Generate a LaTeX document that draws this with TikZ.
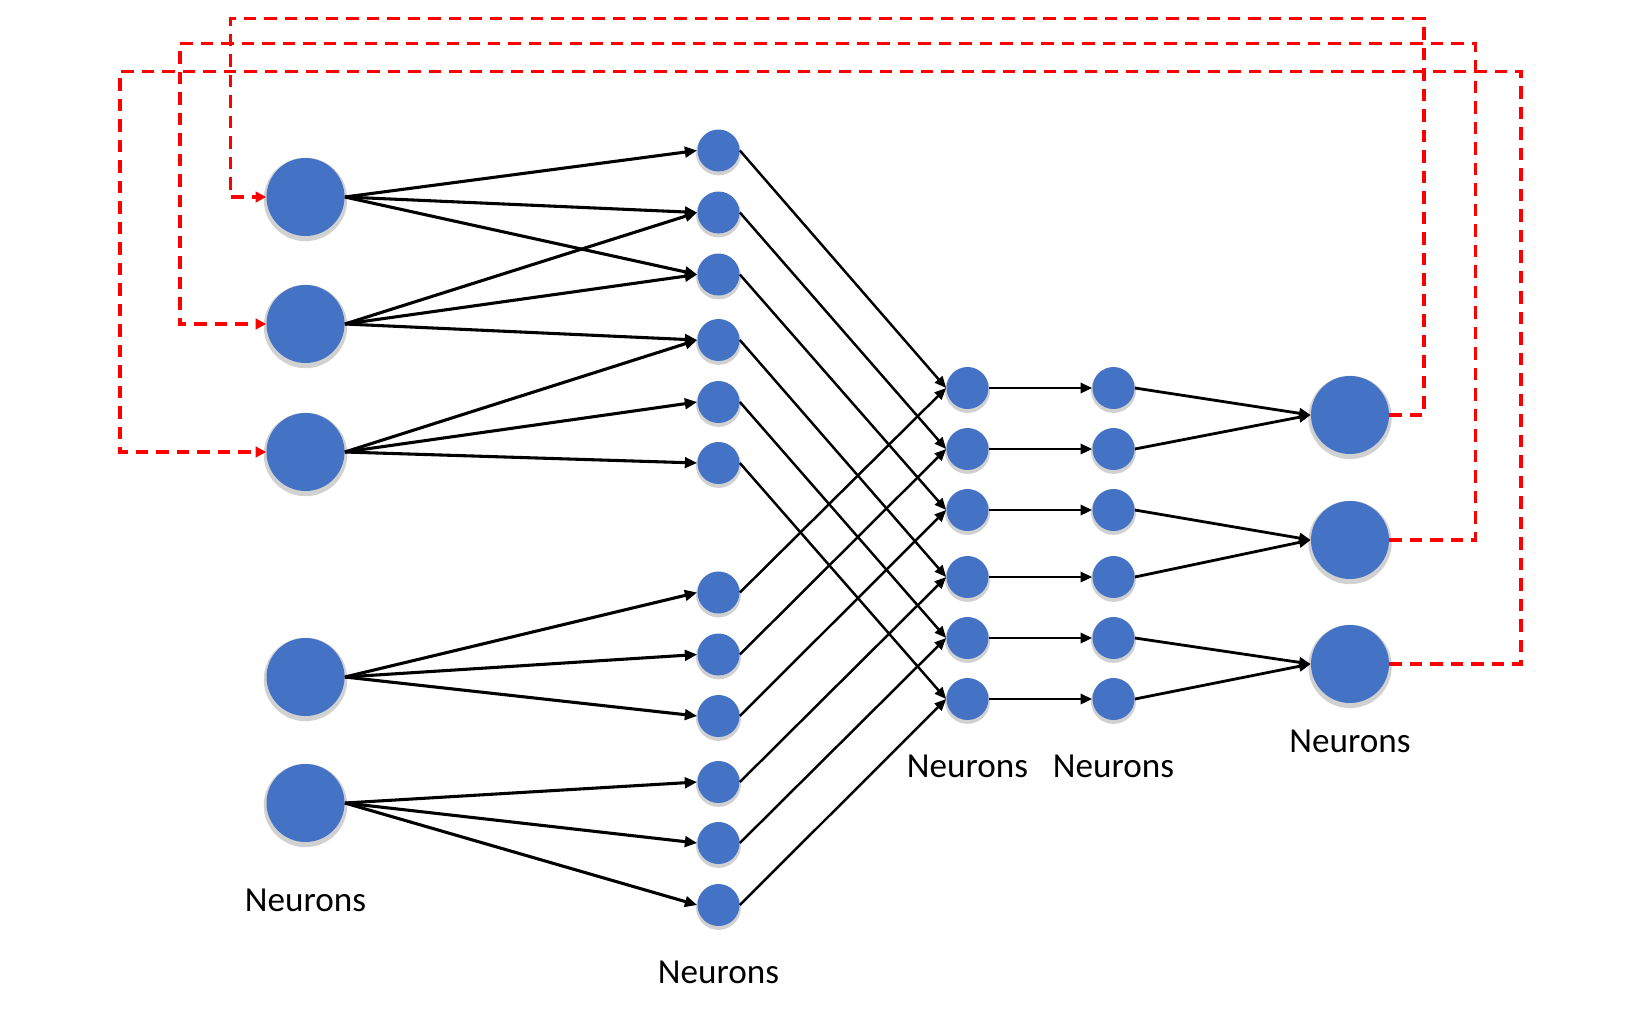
\documentclass[tikz,border=0pt]{standalone}
\usepackage{fontspec}
\setmainfont{Carlito}
\usepackage{tikz}
\usetikzlibrary{bayesnet}
\usetikzlibrary{positioning,arrows.meta,shadows}

\definecolor{nblue}{RGB}{68,114,196}

\tikzset{
  neuron/.style={latent, draw=none, fill=nblue, minimum size=0.84cm,
    drop shadow={shadow scale=1.07, shadow xshift=0pt, shadow yshift=-1.3pt, fill=black!40, opacity=0.45}},
  bigneuron/.style={neuron, minimum size=1.56cm},
  lbl/.style={font=\fontsize{20}{24}\selectfont},
  fanarrow/.style={>={Triangle[length=7pt,width=6pt]}, line width=1.75pt},
  linkarrow/.style={>={Triangle[length=6.6pt,width=5.8pt]}, line width=1.6pt},
  crossarrow/.style={>={Triangle[length=6.6pt,width=5.6pt]}, line width=1.4pt},
  feedback/.style={draw=red, line width=1.95pt, dash pattern=on 0.25cm off 0.16cm,
    -{Triangle[length=6pt,width=6pt]}}
}

\begin{document}
\begin{tikzpicture}[on grid]

  \useasboundingbox (0,0) rectangle (33,-20.26);

  % Define nodes
  \node[bigneuron] (i1) at (6.11,-3.94) {};
  \node[bigneuron, below=2.54cm of i1] (i2) {};
  \node[bigneuron, below=2.56cm of i2] (i3) {};
  \node[bigneuron, below=4.50cm of i3] (i4) {};
  \node[bigneuron, below=2.52cm of i4] (i5) {};

  \node[neuron, above right=0.93cm and 8.26cm of i1] (h1) {};
  \node[neuron, below=1.24cm of h1]  (h2)  {};
  \node[neuron, below=1.24cm of h2]  (h3)  {};
  \node[neuron, below=1.31cm of h3]  (h4)  {};
  \node[neuron, below=1.24cm of h4]  (h5)  {};
  \node[neuron, below=1.22cm of h5]  (h6)  {};
  \node[neuron, below=2.59cm of h6]  (h7)  {};
  \node[neuron, below=1.24cm of h7]  (h8)  {};
  \node[neuron, below=1.23cm of h8]  (h9)  {};
  \node[neuron, below=1.32cm of h9]  (h10) {};
  \node[neuron, below=1.22cm of h10] (h11) {};
  \node[neuron, below=1.24cm of h11] (h12) {};

  \node[neuron, below right=0.96cm and 4.98cm of h4] (m1) {};
  \node[neuron, below=1.22cm of m1] (m2) {};
  \node[neuron, below=1.22cm of m2] (m3) {};
  \node[neuron, below=1.34cm of m3] (m4) {};
  \node[neuron, below=1.22cm of m4] (m5) {};
  \node[neuron, below=1.22cm of m5] (m6) {};

  \node[neuron, right=2.92cm of m1] (n1) {};
  \node[neuron, right=2.92cm of m2] (n2) {};
  \node[neuron, right=2.92cm of m3] (n3) {};
  \node[neuron, right=2.92cm of m4] (n4) {};
  \node[neuron, right=2.92cm of m5] (n5) {};
  \node[neuron, right=2.92cm of m6] (n6) {};

  \node[bigneuron, below right=0.54cm and 4.73cm of n1] (o1) {};
  \node[bigneuron, below=2.50cm of o1] (o2) {};
  \node[bigneuron, below=2.48cm of o2] (o3) {};

  % Labels
  \node[lbl, below=1.95cm of i5]  (li) {Neurons};
  \node[lbl, below=1.34cm of h12] (lh) {Neurons};
  \node[lbl, below=1.34cm of m6]  (lm) {Neurons};
  \node[lbl, below=1.34cm of n6]  (ln) {Neurons};
  \node[lbl, below=1.55cm of o3]  (lo) {Neurons};

  % Connect the nodes
  \edge[fanarrow] {i1.east} {h1.west,h2.west,h3.west} ;
  \edge[fanarrow] {i2.east} {h2.west,h3.west,h4.west} ;
  \edge[fanarrow] {i3.east} {h4.west,h5.west,h6.west} ;
  \edge[fanarrow] {i4.east} {h7.west,h8.west,h9.west} ;
  \edge[fanarrow] {i5.east} {h10.west,h11.west,h12.west} ;

  \edge[crossarrow] {h1.east,h7.east} {m1.west} ;
  \edge[crossarrow] {h2.east,h8.east} {m2.west} ;
  \edge[crossarrow] {h3.east,h9.east} {m3.west} ;
  \edge[crossarrow] {h4.east,h10.east} {m4.west} ;
  \edge[crossarrow] {h5.east,h11.east} {m5.west} ;
  \edge[crossarrow] {h6.east,h12.east} {m6.west} ;

  \edge[linkarrow] {m1} {n1} ;
  \edge[linkarrow] {m2} {n2} ;
  \edge[linkarrow] {m3} {n3} ;
  \edge[linkarrow] {m4} {n4} ;
  \edge[linkarrow] {m5} {n5} ;
  \edge[linkarrow] {m6} {n6} ;

  \edge[linkarrow] {n1.east,n2.east} {o1.west} ;
  \edge[linkarrow] {n3.east,n4.east} {o2.west} ;
  \edge[linkarrow] {n5.east,n6.east} {o3.west} ;

  % Feedback loops
  \coordinate (r1) at (28.48,-0.37);
  \coordinate (r2) at (29.51,-0.87);
  \coordinate (r3) at (30.42,-1.43);
  \coordinate (l1) at (4.61,-0.37);
  \coordinate (l2) at (3.60,-0.87);
  \coordinate (l3) at (2.40,-1.43);

  \draw[feedback] (o1.east) -| (r1) -- (l1) |- (i1.west);
  \draw[feedback] (o2.east) -| (r2) -- (l2) |- (i2.west);
  \draw[feedback] (o3.east) -| (r3) -- (l3) |- (i3.west);

\end{tikzpicture}
\end{document}
